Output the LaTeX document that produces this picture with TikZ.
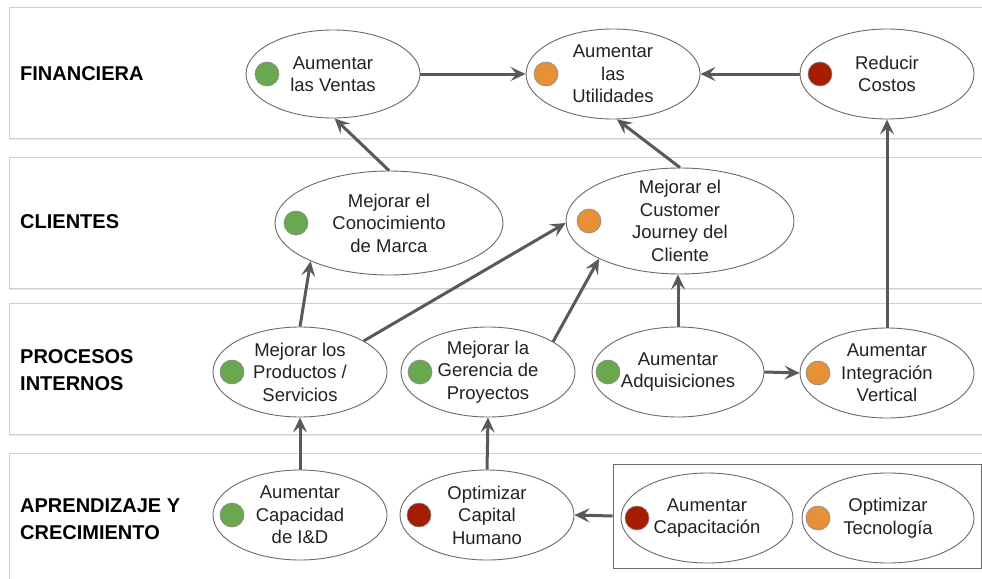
\documentclass[tikz,border=0pt]{standalone}
\usepackage{fontspec}
\setmainfont{Liberation Sans}
\usetikzlibrary{arrows.meta,shapes.geometric,shadows}
\definecolor{grn}{HTML}{6AA84F}
\definecolor{org}{HTML}{E69138}
\definecolor{redd}{HTML}{A61C00}
\definecolor{arr}{HTML}{595959}
\definecolor{txt}{HTML}{222222}
\definecolor{bandline}{HTML}{D0D0D0}
\definecolor{ellline}{HTML}{6A6A6A}
\tikzset{
  band/.style={draw=bandline, fill=white, line width=1pt,
    drop shadow={opacity=0.18, shadow xshift=0pt, shadow yshift=-2pt}},
  lab/.style={anchor=west, align=left, inner sep=0pt, text=black,
    font=\bfseries\fontsize{20}{27}\selectfont},
  objell/.style={ellipse, draw=ellline, line width=0.9pt, fill=white, inner sep=0pt},
  dotc/.style={circle, draw=ellline!80, line width=0.6pt, minimum size=24pt, inner sep=0pt},
  objtxt/.style={align=center, inner sep=0pt, text=txt,
    font=\fontsize{18.5}{22.5}\selectfont},
  arw/.style={draw=arr, line width=3pt, -{Stealth[length=15pt,width=14pt,inset=6pt]}},
  grpbox/.style={draw=ellline, line width=1pt, inner sep=0pt}
}
% name, x, y, rx, ry, colour, dot offset, text
\newcommand{\obj}[8]{%
  \node[objell, minimum width={2*#4pt}, minimum height={2*#5pt}] (#1) at (#2,#3) {};
  \node[dotc, fill=#6] (#1-d) at ({#2-#4+#7},#3) {};
  \node[objtxt] (#1-t) at (#2,#3) {#8};
}
\begin{document}
\begin{tikzpicture}[x=1pt,y=-1pt]
\useasboundingbox (0,0) rectangle (982,578);
\clip (0,0) rectangle (982,578);
\fill[white] (0,0) rectangle (982,578);
% bands
\draw[band] (9,8) rectangle (992,138);
\draw[band] (9,157) rectangle (992,288);
\draw[band] (9,303) rectangle (992,434);
\draw[band] (9,453) rectangle (992,600);
% labels
\node[lab] (l1) at (20,74) {FINANCIERA};
\node[lab] (l2) at (20,222) {CLIENTES};
\node[lab] (l3) at (20,370) {PROCESOS\\INTERNOS};
\node[lab] (l4) at (20,519) {APRENDIZAJE Y\\CRECIMIENTO};
% group box
\node[grpbox, minimum width=368, minimum height=104] (grp) at (797,516) {};
% objectives
\obj{ventas}{333}{74}{87}{44}{grn}{21}{Aumentar\\las Ventas}
\obj{util}{613}{74}{87}{45}{org}{20}{Aumentar\\las\\Utilidades}
\obj{costos}{887}{74}{87}{45}{redd}{20}{Reducir\\Costos}
\obj{conoc}{389}{223}{114}{52}{grn}{21}{Mejorar el\\Conocimiento\\de Marca}
\obj{journey}{680}{221}{114}{53}{org}{23}{Mejorar el\\Customer\\Journey del\\Cliente}
\obj{prod}{300}{372}{87}{45}{grn}{19}{Mejorar los\\Productos /\\Servicios}
\obj{ger}{488}{372}{87}{45}{grn}{19}{Mejorar la\\Gerencia de\\Proyectos}
\obj{adq}{678}{372}{86}{45}{grn}{16}{Aumentar\\Adquisiciones}
\obj{integ}{887}{373}{87}{45}{org}{18}{Aumentar\\Integración\\Vertical}
\obj{capid}{300}{515}{87}{45}{grn}{19}{Aumentar\\Capacidad\\de I\&D}
\obj{caphum}{487}{515}{87}{45}{redd}{19}{Optimizar\\Capital\\Humano}
\obj{capac}{707}{518}{86}{45}{redd}{16}{Aumentar\\Capacitación}
\obj{tecno}{888}{518}{86}{45}{org}{16}{Optimizar\\Tecnología}
% connectors
\draw[arw] (ventas.east) -- (util.west);
\draw[arw] (costos.west) -- (util.east);
\draw[arw] (conoc.north) -- (ventas.-88);
\draw[arw] (journey.north) -- (util.-85);
\draw[arw] (integ.north) -- (costos.south);
\draw[arw] (prod.north) -- (conoc.-154);
\draw[arw] (prod.26) -- (journey.181);
\draw[arw] (ger.25) -- (journey.-155);
\draw[arw] (adq.north) -- (adq.north |- journey.south);
\draw[arw] (adq.east) -- (integ.west);
\draw[arw] (capid.north) -- (prod.south);
\draw[arw] (caphum.north) -- (ger.south);
\draw[arw] (grp.west) -- (caphum.east);
\end{tikzpicture}
\end{document}
